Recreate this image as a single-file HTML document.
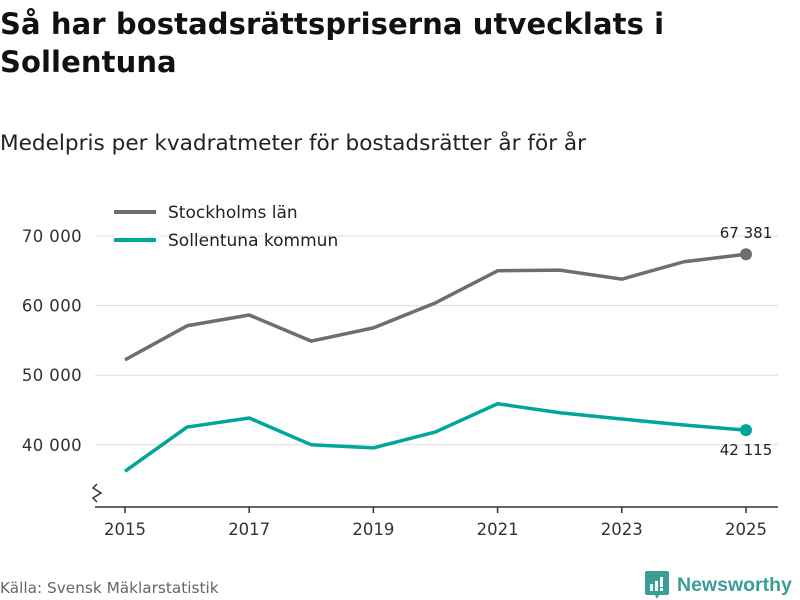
<!DOCTYPE html>
<html><head><meta charset="utf-8"><style>
body{margin:0;width:800px;height:600px;background:#fff;font-family:"DejaVu Sans",sans-serif;overflow:hidden;position:relative}
.t{position:absolute;left:0;color:#111}
</style></head><body>
<div class="t" style="top:5px;font-size:29px;font-weight:bold;line-height:38px;width:790px;letter-spacing:0.1px">Så har bostadsrättspriserna utvecklats i<br>Sollentuna</div>
<div class="t" style="top:131px;font-size:21.6px;color:#222">Medelpris per kvadratmeter för bostadsrätter år för år</div>
<svg id="c" width="800" height="600" style="position:absolute;left:0;top:0"></svg>
<div class="t" style="top:579px;font-size:15.3px;color:#666">Källa: Svensk Mäklarstatistik</div>
<div style="position:absolute;left:645px;top:571px;display:flex;align-items:center">
<svg width="24" height="28" viewBox="0 0 24 28"><path d="M0 2 Q0 0 2 0 H22 Q24 0 24 2 V22 Q24 24 22 24 H14 L12 28 L10 24 H2 Q0 24 0 22Z" fill="#3a9e94"/><rect x="5" y="13" width="3" height="7" fill="#fff"/><rect x="10" y="10" width="3" height="10" fill="#fff"/><rect x="15" y="6" width="3" height="10" fill="#fff"/><rect x="15" y="17" width="3" height="3" fill="#fff"/></svg>
<span style="margin-left:8px;font-size:19.5px;color:#3a9e94;font-weight:bold;font-family:'Liberation Sans',sans-serif">Newsworthy</span></div>
<script>
const years=[2015,2016,2017,2018,2019,2020,2021,2022,2023,2024,2025];
const sthlm=[52200,57100,58650,54900,56800,60400,65000,65100,63800,66300,67381];
const sollentuna=[36200,42550,43850,40000,39550,41850,45900,44600,43700,42850,42115];
const yTicks=[40000,50000,60000,70000];
const xTicks=[2015,2017,2019,2021,2023,2025];
const NS="http://www.w3.org/2000/svg",svg=document.getElementById('c');
const FF='DejaVu Sans';
const x=v=>125+(v-2015)*62.1;
const y=v=>236+(70000-v)*0.00696;
const fmt=v=>String(Math.round(v)).replace(/\B(?=(\d{3})+(?!\d))/g,' ');
function mk(tag,a,txt){const e=document.createElementNS(NS,tag);for(const k in a)e.setAttribute(k,a[k]);if(txt!=null)e.textContent=txt;svg.appendChild(e);return e;}
yTicks.forEach(v=>{
const g=mk('line',{x1:95,x2:778,y1:y(v),y2:y(v),stroke:'#ddd','stroke-width':1});


const t=mk('text',{x:82,y:y(v)+6,'text-anchor':'end','font-size':16.5,fill:'#333','font-family':FF,'letter-spacing':0.4},fmt(v));


});
const ax=mk('line',{x1:95,x2:778,y1:507,y2:507,stroke:'#333','stroke-width':1.5});


const br=mk('path',{d:'M97 484 L93 488 L101 493 L93 498 L97 502',fill:'none',stroke:'#333','stroke-width':1.5});


xTicks.forEach(v=>{
mk('line',{x1:x(v),x2:x(v),y1:507,y2:513,stroke:'#333','stroke-width':1.5});
const t=mk('text',{x:x(v),y:535,'text-anchor':'middle','font-size':16.5,fill:'#333','font-family':FF},v);


});
function series(vals,col,name){
const p=mk('polyline',{points:vals.map((v,i)=>x(years[i])+','+y(v)).join(' '),fill:'none',stroke:col,'stroke-width':3.5,'stroke-linejoin':'round'});


const n=vals.length-1;
const c=mk('circle',{cx:x(years[n]),cy:y(vals[n]),r:6,fill:col});


}
series(sthlm,'#6e6d73','stockholm');
series(sollentuna,'#00a69c','sollentuna');
const l1=mk('text',{x:746,y:y(sthlm[10])-16,'text-anchor':'middle','font-size':15,fill:'#222','font-family':FF},fmt(sthlm[10]));


const l2=mk('text',{x:746,y:y(sollentuna[10])+25,'text-anchor':'middle','font-size':15,fill:'#222','font-family':FF},fmt(sollentuna[10]));


[['Stockholms län','#6e6d73',212],['Sollentuna kommun','#00a69c',240]].forEach(([n,c,yy])=>{
mk('rect',{x:114,y:yy-5,width:46,height:30,fill:'#fff'});
mk('line',{x1:114,x2:156,y1:yy,y2:yy,stroke:c,'stroke-width':4});
const t=mk('text',{x:168,y:yy+6,'font-size':17,fill:'#222','font-family':FF},n);


});
</script>
</body></html>
